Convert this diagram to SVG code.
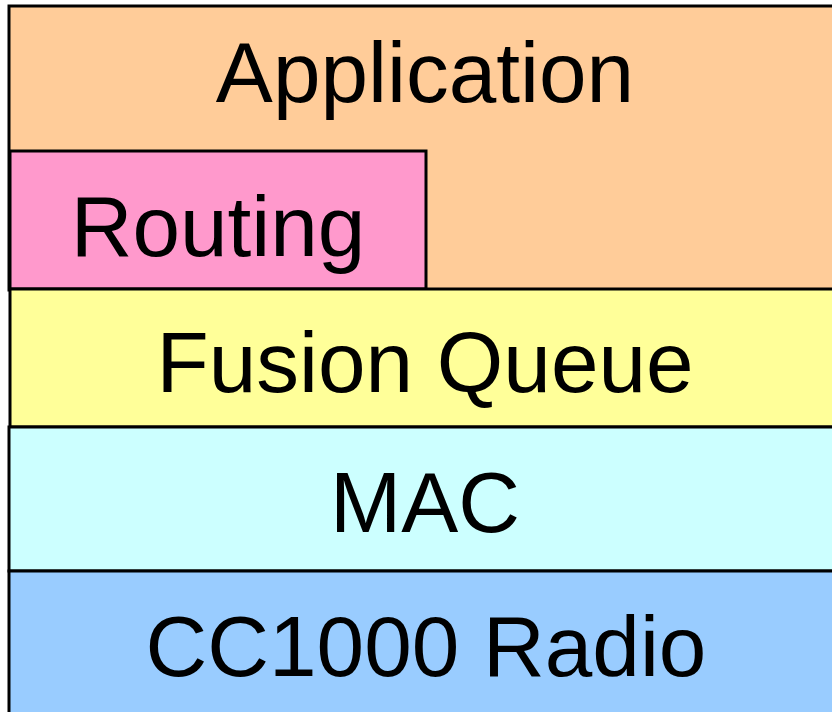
<svg xmlns="http://www.w3.org/2000/svg" width="832" height="712" viewBox="0 0 832 712">
  <style>
    .layer { stroke: #000; stroke-width: 3; }
    .label { font-family: "Liberation Sans", Arial, sans-serif; font-size: 85.5px; fill: #000; text-anchor: middle; }
  </style>
  <rect width="832" height="712" fill="#fff"/>
  <g id="application">
    <rect class="layer" x="9" y="6" width="840" height="284" fill="#FFCC99"/>
    <text class="label" x="425" y="102">Application</text>
  </g>
  <g id="routing">
    <rect class="layer" x="10" y="151" width="416" height="138" fill="#FF99CC"/>
    <text class="label" x="218" y="256">Routing</text>
  </g>
  <g id="fusion-queue">
    <rect class="layer" x="10" y="289" width="840" height="138" fill="#FFFF99"/>
    <text class="label" x="425" y="392">Fusion Queue</text>
  </g>
  <g id="mac">
    <rect class="layer" x="9" y="427" width="840" height="144" fill="#CCFFFF"/>
    <text class="label" x="425" y="532">MAC</text>
  </g>
  <g id="radio">
    <rect class="layer" x="9" y="571" width="840" height="150" fill="#99CCFF"/>
    <text class="label" x="426" y="676">CC1000 Radio</text>
  </g>
  <g id="connectors"></g>
</svg>
